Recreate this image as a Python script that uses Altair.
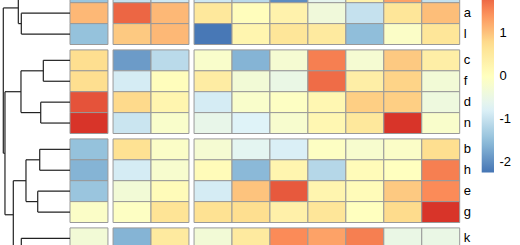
import altair as alt
import pandas as pd
import numpy as np

# ---------------- data ----------------
col_names = ["C1", "C2", "C3", "C4", "C5", "C6", "C7", "C8", "C9", "C10"]
col_groups = [0, 1, 1, 2, 2, 2, 2, 2, 2, 2]

row_names = ["i", "a", "l", "c", "f", "d", "n", "b", "h", "e", "g", "k"]
row_groups = [0, 0, 0, 1, 1, 1, 1, 2, 2, 2, 2, 3]
shown_labels = ["a", "l", "c", "f", "d", "n", "b", "h", "e", "g", "k"]

v_i = [-1.4, -1.0, -0.9, -0.9, -1.1, -2.0, -0.6, 0.3, 1.3, -1.0]
v_a = [1.1, 1.8, 1.1, 0.55, 0.05, 0.3, -0.35, -1.0, 0.6, 1.05]
v_l = [-1.45, 0.95, 1.1, -2.2, 0.25, 0.6, 0.5, -1.5, -0.1, 0.6]
v_c = [0.75, -1.85, -1.1, -0.15, -1.6, -0.25, 1.6, -0.25, 0.95, 0.4]
v_f = [0.75, -0.85, 0.05, 0.45, -0.3, -0.5, 1.75, 0.4, 0.85, -0.3]
v_d = [1.95, 0.8, 0.25, -0.85, -0.15, -0.05, 0.2, 0.9, 0.9, -0.4]
v_n = [2.2, -0.95, -0.15, -0.55, -0.75, -0.2, 0.2, 0.55, 2.2, -0.15]
v_b = [-1.45, 0.7, -0.1, -0.25, -0.65, -0.8, -0.05, -0.2, -0.1, 0.75]
v_h = [-1.6, -0.85, -0.2, 0.1, -1.55, 0.25, -1.15, 0.1, 0.0, 1.6]
v_e = [-1.4, -0.3, 0.1, -0.85, 1.0, 1.9, 0.25, 0.1, 0.95, 1.5]
v_g = [-0.1, -0.05, 0.65, 0.7, 0.75, 0.35, 0.6, 0.0, 0.78, 2.2]
v_k = [-0.3, -1.6, 0.5, -0.3, 0.5, 1.5, 1.3, 1.6, -0.5, -0.5]
row_values = [v_i, v_a, v_l, v_c, v_f, v_d, v_n, v_b, v_h, v_e, v_g, v_k]

# dendrogram: leaf order (top to bottom, last leaf lies below the view)
leaf_order = row_names + ["j"]
leaf_groups = row_groups + [3]
# merges: (child1, child2, height); ints refer to earlier merges
merges = [
    ("a", "l", 7.30),
    ("i", 0, 7.75),
    ("c", "f", 4.00),
    ("d", "n", 4.39),
    (2, 3, 7.35),
    ("b", "h", 4.54),
    ("e", "g", 4.84),
    (5, 6, 6.60),
    ("k", "j", 7.30),
    (7, 8, 8.50),
    (4, 9, 9.75),
    (1, 10, 10.0),
]

palette = ["#4575B4", "#91BFDB", "#E0F3F8", "#FFFFBF", "#FEE090", "#FC8D59", "#D73027"]
vmin, vmax = -2.23, 2.23

# ---------------- layout constants ----------------
W, H = 520, 245
CELL_W, CELL_H = 37.95, 20.9
COL_GAP, ROW_GAP = 5.1 / CELL_W, 5.4 / CELL_H
HEAT_LEFT = 70.0        # px of first column
TOP_ROW_Y = -18.2       # px of first (partly hidden) row
DEND_LEFT = 3.3         # px of the root
ROOT_H = 10.0
H_TO_COLS = (HEAT_LEFT - DEND_LEFT) / ROOT_H / CELL_W   # dendrogram height -> column units

# ---------------- build tables ----------------
def row_top(i, g):
    return i + g * ROW_GAP

def col_left(j, g):
    return j + g * COL_GAP

cells = []
for i, (r, g, vals) in enumerate(zip(row_names, row_groups, row_values)):
    for j, (c, cg, v) in enumerate(zip(col_names, col_groups, vals)):
        cells.append({
            "row": r, "col": c, "value": v,
            "x": col_left(j, cg), "x2": col_left(j, cg) + 1,
            "y": row_top(i, g), "y2": row_top(i, g) + 1,
        })
cells = pd.DataFrame(cells)

labels = pd.DataFrame([
    {"row": r, "y": row_top(i, g) + 0.5, "x": col_left(len(col_names), col_groups[-1])}
    for i, (r, g) in enumerate(zip(row_names, row_groups)) if r in shown_labels
])

leaf_y = {n: row_top(i, g) + 0.5 for i, (n, g) in enumerate(zip(leaf_order, leaf_groups))}
node_y, node_h = {}, {}
segs = []
def pos(c):
    if isinstance(c, int):
        return node_y[c], node_h[c]
    return leaf_y[c], 0.0
for k, (c1, c2, h) in enumerate(merges):
    y1, h1 = pos(c1)
    y2, h2 = pos(c2)
    segs.append({"h": h, "h2": h, "y": y1, "y2": y2})
    segs.append({"h": h, "h2": h1, "y": y1, "y2": y1})
    segs.append({"h": h, "h2": h2, "y": y2, "y2": y2})
    node_y[k] = (y1 + y2) / 2
    node_h[k] = h
segs = pd.DataFrame(segs)

# ---------------- scales ----------------
y_dom = [-TOP_ROW_Y / CELL_H, -TOP_ROW_Y / CELL_H + H / CELL_H]
y_scale = alt.Scale(domain=y_dom, reverse=True, zero=False, nice=False)
x_dom = [-HEAT_LEFT / CELL_W, (W - HEAT_LEFT) / CELL_W]
x_scale = alt.Scale(domain=x_dom, zero=False, nice=False)

color_scale = alt.Scale(domain=list(np.linspace(vmin, vmax, len(palette))), range=palette,
                        interpolate="rgb")

heat = alt.Chart(cells).mark_rect(stroke="#999999", strokeWidth=1, clip=True).encode(
    x=alt.X("x:Q", scale=x_scale, axis=None),
    x2="x2:Q",
    y=alt.Y("y:Q", scale=y_scale, axis=None),
    y2="y2:Q",
    color=alt.Color("value:Q", scale=color_scale, legend=alt.Legend(
        orient="none", legendX=481.7, legendY=-19.6, direction="vertical",
        gradientLength=192, gradientThickness=12.3, title=None,
        values=[-2, -1, 0, 1], labelFont="Liberation Sans", labelFontSize=13,
        labelColor="black", labelOffset=5.5, gradientStrokeWidth=0,
        labelExpr="'' + datum.value",
    )),
)

text = alt.Chart(labels).mark_text(
    align="left", baseline="middle", dx=4, font="Liberation Sans", fontSize=13, color="black", clip=True
).encode(
    x=alt.X("x:Q", scale=x_scale, axis=None),
    y=alt.Y("y:Q", scale=y_scale, axis=None),
    text="row:N",
)

dend = alt.Chart(segs).transform_calculate(
    xa=f"-datum.h * {H_TO_COLS}", xb=f"-datum.h2 * {H_TO_COLS}"
).mark_rule(color="#222222", strokeWidth=1.2, clip=True).encode(
    x=alt.X("xa:Q", scale=x_scale, axis=None),
    x2="xb:Q",
    y=alt.Y("y:Q", scale=y_scale, axis=None),
    y2="y2:Q",
)

chart = alt.layer(heat, text, dend).properties(
    width=W, height=H, autosize=alt.AutoSizeParams(type="none"), padding=0,
    background="white",
).configure_view(stroke=None)

chart.save("out.html", embed_options={"renderer": "svg", "actions": False})
